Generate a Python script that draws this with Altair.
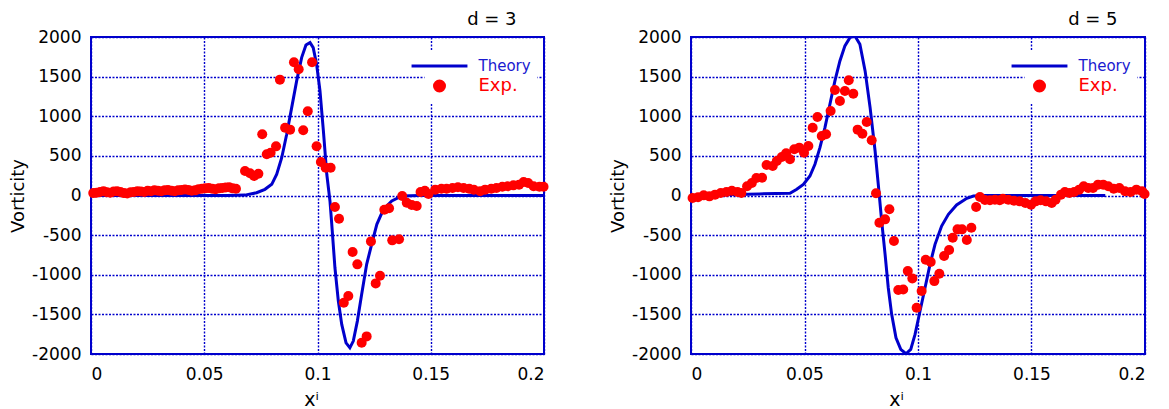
import altair as alt
import pandas as pd

# ---------------- d = 3 ----------------
theory3_x = [0.0, 0.02, 0.04, 0.06, 0.068, 0.0731, 0.0768, 0.0798, 0.0820, 0.0842, 0.0864, 0.0886,
             0.0908, 0.0930, 0.0949, 0.0967, 0.0981, 0.0996, 0.1011, 0.1026, 0.1041, 0.1055,
             0.1063, 0.1077, 0.1092, 0.1107, 0.1126, 0.1143, 0.1158, 0.1176, 0.1195, 0.1217,
             0.1239, 0.1262, 0.1291, 0.1328, 0.1372, 0.145, 0.16, 0.18, 0.2]
theory3_y = [0, 0, 0, 0, 5, 35, 78, 141, 268, 477, 773, 1109,
             1446, 1740, 1900, 1929, 1866, 1657, 1319, 814, 268, -69,
             -364, -912, -1332, -1626, -1859, -1922, -1837, -1585, -1247, -869,
             -616, -364, -174, -69, -6, 0, 0, 0, 0]

exp3_x = [0.001, 0.0025, 0.004, 0.0055, 0.007, 0.0085, 0.010, 0.0115, 0.013, 0.0145, 0.016,
          0.0175, 0.019, 0.0205, 0.022, 0.0235, 0.025, 0.0265, 0.028, 0.0295, 0.031, 0.0325,
          0.034, 0.0355, 0.037, 0.0385, 0.040, 0.0415, 0.043, 0.0445, 0.046, 0.0475, 0.049,
          0.0505, 0.052, 0.0535, 0.055, 0.0565, 0.058, 0.0595, 0.061, 0.0625, 0.064,
          0.0680, 0.0702, 0.0720, 0.0739, 0.0756, 0.0776, 0.0793, 0.0817, 0.0834, 0.0857,
          0.0879, 0.0896, 0.0917, 0.0937, 0.0957, 0.0976, 0.0996, 0.1015, 0.1036, 0.1058,
          0.1077, 0.1095, 0.1116, 0.1136, 0.1155, 0.1176, 0.1195, 0.1217, 0.1236, 0.1257,
          0.1276, 0.1295, 0.1316, 0.1330, 0.1360, 0.1374, 0.1394, 0.1416, 0.1438, 0.1455,
          0.1474, 0.1490, 0.1520, 0.1547, 0.1570, 0.1596, 0.1620, 0.1645, 0.1670, 0.1690,
          0.1718, 0.1740, 0.1767, 0.1790, 0.1816, 0.1840, 0.1865, 0.1890, 0.1910, 0.1930,
          0.1954, 0.1980, 0.1998]
exp3_y = [30, 35, 45, 55, 40, 35, 50, 55, 45, 30, 25,
          40, 45, 55, 50, 45, 60, 55, 65, 60, 55, 65,
          70, 60, 55, 65, 70, 75, 70, 60, 65, 80, 85,
          90, 95, 85, 80, 90, 95, 100, 105, 90, 85,
          309, 280, 246, 275, 772, 520, 540, 620, 1462, 856,
          831, 1681, 1593, 823, 1063, 1681, 621, 423, 351, 351,
          -145, -293, -1353, -1269, -713, -869, -1858, -1778, -579, -1109,
          -1012, -179, -162, -566, -553, -6, -91, -120, -133, 44,
          61, 19, 74, 86, 86, 95, 103, 95, 86, 74,
          53, 74, 86, 95, 111, 116, 128, 137, 170, 158,
          116, 111, 111]

# ---------------- d = 5 ----------------
theory5_x = [0.0, 0.01, 0.02, 0.03, 0.0436, 0.0466, 0.0495, 0.0524, 0.0546, 0.0568, 0.0590,
             0.0612, 0.0634, 0.0656, 0.0678, 0.0700, 0.0722, 0.0744, 0.0767, 0.0789, 0.0811,
             0.0825, 0.0840, 0.0855, 0.0869, 0.0884, 0.0903, 0.0924, 0.0947, 0.0968, 0.0987,
             0.1009, 0.1031, 0.1053, 0.1075, 0.1104, 0.1134, 0.1170, 0.1215, 0.1244, 0.13,
             0.15, 0.1825]
theory5_y = [0, 5, 12, 20, 28, 78, 141, 246, 394, 604, 856,
             1152, 1446, 1698, 1888, 1992, 2014, 1909, 1572, 1109, 562,
             141, -322, -742, -1164, -1500, -1795, -1942, -1997, -1942, -1753,
             -1458, -1164, -869, -616, -385, -237, -120, -35, -6, 0,
             0, 0]

exp5_x = [0.0007, 0.0031, 0.0056, 0.0081, 0.0106, 0.0131, 0.0156, 0.0180, 0.0205, 0.0222,
          0.0247, 0.0268, 0.0288, 0.0313, 0.0333, 0.0360, 0.0378, 0.0400, 0.0419, 0.0436,
          0.0455, 0.0477, 0.0498, 0.0517, 0.0536, 0.0557, 0.0576, 0.0595, 0.0615, 0.0634,
          0.0656, 0.0678, 0.0695, 0.0715, 0.0734, 0.0755, 0.0774, 0.0796, 0.0815, 0.0830,
          0.0855, 0.0874, 0.0894, 0.0913, 0.0935, 0.0955, 0.0975, 0.0994, 0.1016, 0.1034,
          0.1056, 0.1072, 0.1094, 0.1115, 0.1137, 0.1153, 0.1174, 0.1194, 0.1215, 0.1235,
          0.1256, 0.1273, 0.1295, 0.1317, 0.1339, 0.1360, 0.1374, 0.1398, 0.1423, 0.1448,
          0.1473, 0.1498, 0.1518, 0.1540, 0.1564, 0.1589, 0.1606, 0.1630, 0.1647, 0.1667,
          0.1688, 0.1710, 0.1730, 0.1750, 0.1771, 0.1793, 0.1816, 0.1838, 0.1862, 0.1887,
          0.1912, 0.1937, 0.1962, 0.1987, 0.1998]
exp5_y = [-32, -23, 2, -11, 11, 32, 44, 61, 44, 32,
          116, 158, 221, 225, 385, 372, 436, 486, 533, 457,
          583, 604, 540, 625, 856, 991, 751, 773, 1067, 1332,
          1193, 1319, 1455, 1285, 831, 780, 928, 697, 28, -343,
          -301, -174, -574, -1193, -1185, -953, -1046, -1416, -1206, -811,
          -840, -1080, -987, -764, -688, -533, -427, -427, -562, -407,
          -145, -19, -57, -61, -53, -61, -40, -53, -65, -74,
          -95, -116, -74, -61, -74, -95, -53, 11, 44, 32,
          44, 74, 116, 95, 95, 137, 137, 116, 86, 95,
          53, 44, 74, 53, 19]

series = ["Theory", "Exp."]
x_ticks = [0, 0.05, 0.1, 0.15, 0.2]
y_ticks = [-2000, -1500, -1000, -500, 0, 500, 1000, 1500, 2000]

BLUE = "#0000cc"
RED = "#ff0000"
FONT = "DejaVu Sans"


def panel(tx, ty, ex, ey, title, title_x, w):
    th = pd.DataFrame({"x": tx, "v": ty, "s": "Theory"})
    ep = pd.DataFrame({"x": ex, "v": ey, "s": "Exp."})
    legend = alt.Legend(
        orient="none", legendX=333.5, legendY=14, title=None, fillColor="white",
        padding=6, labelOffset=30, rowPadding=1, labelFont=FONT,
        labelColor=alt.ExprRef("datum.label == 'Theory' ? '#1a1ad0' : '#ff0000'"),
        labelFontSize=alt.ExprRef("datum.label == 'Theory' ? 15 : 18"),
        symbolStrokeWidth=3, symbolOpacity=1,
    )
    color = alt.Color("s:N", scale=alt.Scale(domain=series, range=[BLUE, RED]), legend=legend)
    shape = alt.Shape("s:N", scale=alt.Scale(domain=series, range=["M-5,0H5", "circle"]), legend=legend)
    size = alt.Size("s:N", scale=alt.Scale(domain=series, range=[125, 100]), legend=legend)
    x = alt.X("x:Q", scale=alt.Scale(domain=[0, 0.2], nice=False, zero=False),
              axis=alt.Axis(values=x_ticks, labelExpr="toString(datum.value)", title="xⁱ",
                            titleX=title_x, titleFontSize=19, titlePadding=8, labelPadding=12))
    y = alt.Y("v:Q", scale=alt.Scale(domain=[-2000, 2000], nice=False),
              axis=alt.Axis(values=y_ticks, labelExpr="toString(datum.value)", title="Vorticity",
                            titleFontSize=18, titlePadding=4, labelPadding=10))
    line = alt.Chart(th).mark_line(strokeWidth=3, clip=True).encode(x=x, y=y, color=color)
    pts = alt.Chart(ep).mark_point(filled=True, opacity=1).encode(
        x=x, y=y, color=color, shape=shape, size=size)
    return alt.layer(line, pts).properties(
        width=w, height=317,
        title=alt.TitleParams(title, anchor="end", dx=-32, fontSize=18, font=FONT,
                              fontWeight="normal", offset=-1, color="black"),
    )


left = panel(theory3_x, theory3_y, exp3_x, exp3_y, "d = 3", 220, 453)
right = panel(theory5_x, theory5_y, exp5_x, exp5_y, "d = 5", 205, 454)

chart = alt.hconcat(left, right, spacing=58).resolve_scale(
    color="independent", shape="independent", size="independent"
).resolve_legend(
    color="independent", shape="independent", size="independent"
).configure(
    background="white", padding={"top": 2, "left": 0, "right": 0, "bottom": 0}
).configure_axis(
    grid=True, gridColor=BLUE, gridDash=[2, 1.5], gridWidth=1.4, gridOpacity=1,
    domain=False, ticks=False, labelFont=FONT, labelFontSize=17, labelColor="black",
    titleFont=FONT, titleFontWeight="normal", titleColor="black",
).configure_view(stroke=BLUE, strokeWidth=2)

chart.save("out.html", embed_options={"renderer": "svg", "actions": False})
